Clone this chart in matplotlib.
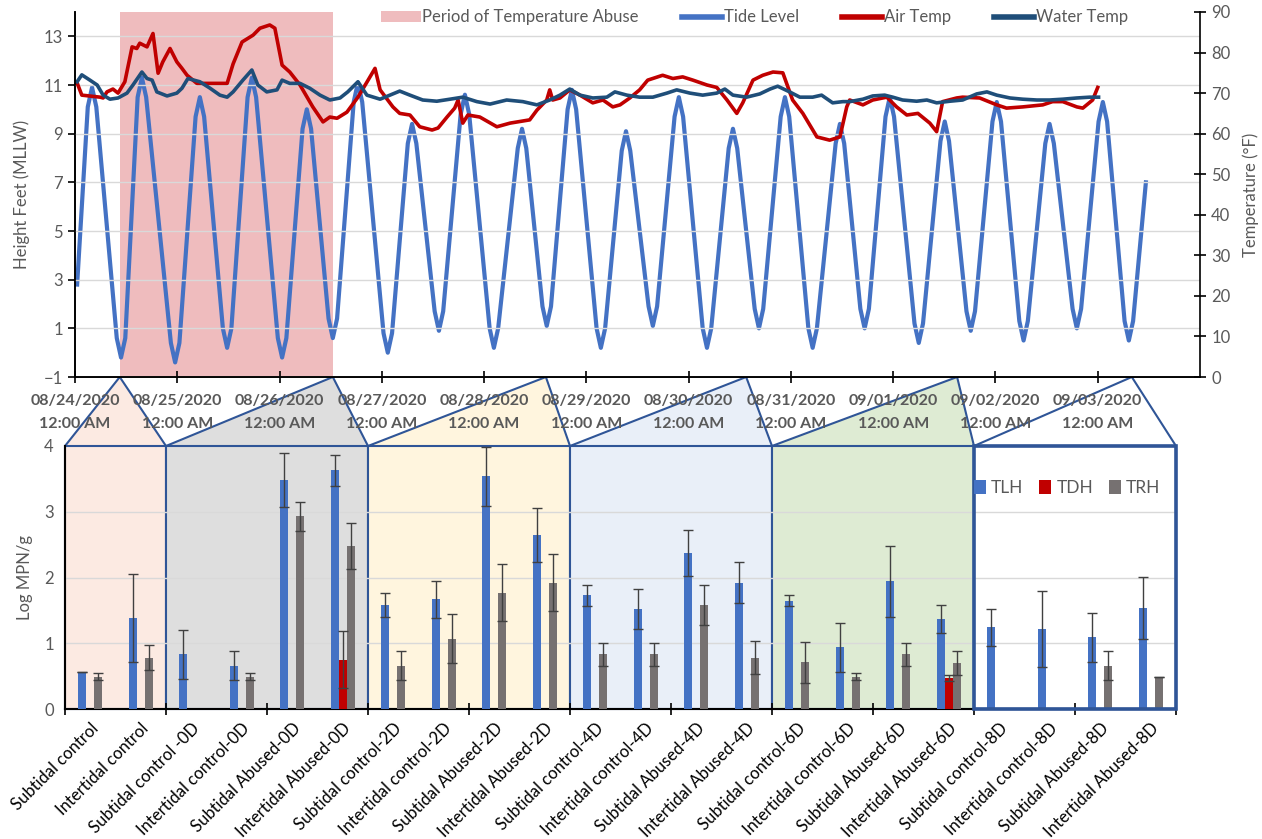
import numpy as np
import pandas as pd
import matplotlib
matplotlib.use("Agg")
import matplotlib.pyplot as plt
import matplotlib.dates as mdates
from matplotlib.patches import Patch, Rectangle, Polygon
from matplotlib.lines import Line2D

plt.rcParams['font.family'] = ['Lato', 'DejaVu Sans']

start = pd.Timestamp("2020-08-24 00:00")

# tide level (ft MLLW), hours after 08/24 00:00
tide_hours = [0.5,
              3.0, 4.0, 5.0, 9.8, 10.8, 11.8, 14.7, 15.7, 16.7, 22.5, 23.5, 24.5,
              28.3, 29.3, 30.3, 34.7, 35.7, 36.7, 40.5, 41.5, 42.5, 47.6, 48.6, 49.6,
              53.4, 54.4, 55.4, 59.5, 60.5, 61.5, 65.4, 66.4, 67.4, 72.4, 73.4, 74.4,
              78.1, 79.1, 80.1, 84.4, 85.4, 86.4, 90.5, 91.5, 92.5, 97.3, 98.3, 99.3,
              103.9, 104.9, 105.9, 109.7, 110.7, 111.7, 115.6, 116.6, 117.6, 122.4, 123.4, 124.4,
              128.3, 129.3, 130.3, 134.6, 135.6, 136.6, 140.7, 141.7, 142.7, 147.3, 148.3, 149.3,
              153.4, 154.4, 155.4, 159.5, 160.5, 161.5, 165.6, 166.6, 167.6, 172.1, 173.1, 174.1,
              178.5, 179.5, 180.5, 184.3, 185.3, 186.3, 190.2, 191.2, 192.2, 197.0, 198.0, 199.0,
              203.1, 204.1, 205.1, 209.2, 210.2, 211.2, 215.3, 216.3, 217.3, 221.6, 222.6, 223.6,
              227.7, 228.7, 229.7, 234.1, 235.1, 236.1, 240.2, 241.2, 242.2, 246.3, 247.3, 248.3,
              251.3]
tide_ft = [2.8,
           10.1, 10.9, 10.1, 0.6, -0.2, 0.6, 10.5, 11.3, 10.5, 0.4, -0.4, 0.4,
           9.7, 10.5, 9.7, 1.0, 0.2, 1.0, 10.5, 11.3, 10.5, 0.6, -0.2, 0.6,
           9.2, 10.0, 9.2, 1.4, 0.6, 1.4, 10.3, 11.1, 10.3, 0.8, 0.0, 0.8,
           8.6, 9.4, 8.6, 1.7, 0.9, 1.7, 9.8, 10.6, 9.8, 1.0, 0.2, 1.0,
           8.4, 9.2, 8.4, 1.9, 1.1, 1.9, 10.0, 10.8, 10.0, 1.0, 0.2, 1.0,
           8.3, 9.1, 8.3, 1.9, 1.1, 1.9, 9.7, 10.5, 9.7, 1.0, 0.2, 1.0,
           8.4, 9.2, 8.4, 1.8, 1.0, 1.8, 9.7, 10.5, 9.7, 1.0, 0.2, 1.0,
           8.6, 9.4, 8.6, 1.8, 1.0, 1.8, 9.7, 10.5, 9.7, 1.2, 0.4, 1.2,
           8.7, 9.5, 8.7, 1.7, 0.9, 1.7, 9.5, 10.3, 9.5, 1.3, 0.5, 1.3,
           8.6, 9.4, 8.6, 1.8, 1.0, 1.8, 9.5, 10.3, 9.5, 1.3, 0.5, 1.3,
           7.0]

# air temperature (F)
air_hours = [0.5, 1.6, 5.9, 6.6, 7.5, 8.9, 10.1, 11.7, 13.4, 14.5,
             15.2, 16.9, 18.3, 19.5, 20.6, 22.3, 23.9, 25.1, 26.3, 28.6,
             35.7, 37.1, 39.2, 41.8, 43.4, 45.7, 46.9, 48.6, 50.4, 52.8,
             55.8, 58.2, 59.8, 61.5, 63.8, 66.4, 68.5, 70.4, 71.6, 74.6,
             76.2, 78.6, 80.9, 83.8, 85.2, 87.3, 89.1, 89.9, 91.0, 92.2,
             95.0, 99.0, 102.1, 106.7, 108.4, 110.7, 111.4, 112.1, 113.8, 116.1,
             118.5, 121.5, 123.9, 126.2, 127.9, 130.2, 132.5, 134.4, 137.9, 140.3,
             142.6, 145.0, 148.3, 150.6, 153.0, 155.3, 156.7, 159.1, 161.4, 163.8,
             166.1, 168.4, 170.8, 174.1, 177.1, 179.5, 181.1, 181.8, 184.9, 187.2,
             190.5, 192.8, 195.2, 197.8, 200.6, 202.2, 203.6, 206.9, 208.3, 212.3,
             216.3, 218.6, 222.4, 227.1, 229.4, 231.8, 235.1, 236.5, 238.8, 240.0]
air_f = [72.5, 69.5, 69.0, 68.8, 70.3, 71.0, 70.0, 72.8, 81.4, 81.0,
         82.3, 81.4, 84.7, 74.9, 77.7, 81.0, 77.7, 76.1, 74.4, 72.4,
         72.4, 77.2, 82.6, 84.3, 86.0, 86.8, 86.0, 76.9, 75.2, 72.0,
         66.6, 62.9, 64.1, 63.8, 65.3, 69.0, 72.7, 76.1, 70.8, 66.6,
         65.0, 64.6, 61.7, 60.9, 61.4, 64.1, 66.3, 68.3, 62.6, 64.6,
         64.1, 61.7, 62.6, 63.4, 65.8, 68.3, 70.8, 68.3, 68.8, 70.8,
         69.5, 67.6, 68.3, 66.6, 67.1, 68.8, 70.8, 73.2, 74.4, 73.6,
         74.0, 73.2, 72.0, 71.4, 68.3, 65.0, 67.6, 73.2, 74.4, 75.2,
         75.0, 68.3, 65.0, 59.2, 58.4, 59.2, 66.6, 68.3, 67.1, 68.3,
         69.0, 66.6, 64.6, 65.0, 62.6, 60.5, 67.9, 68.8, 69.0, 68.8,
         67.1, 66.3, 66.6, 67.1, 67.9, 67.9, 66.6, 66.3, 68.3, 71.4]

# water temperature (F)
water_hours = [0.5, 1.6, 3.5, 5.2, 6.6, 8.2, 10.1, 12.2, 13.6, 15.7,
               16.9, 18.1, 19.2, 21.6, 23.9, 25.1, 26.5, 29.3, 31.7, 34.0,
               35.7, 37.1, 39.4, 41.5, 42.9, 45.0, 47.4, 48.6, 50.4, 52.8,
               55.1, 57.5, 59.8, 62.2, 64.0, 66.4, 68.5, 71.6, 73.9, 76.2,
               78.6, 81.6, 84.9, 88.0, 91.0, 94.3, 97.4, 101.3, 105.1, 108.4,
               111.4, 113.8, 116.1, 118.5, 121.5, 124.8, 126.7, 129.5, 132.5, 135.6,
               138.9, 141.2, 144.3, 147.3, 150.6, 152.5, 154.4, 157.6, 160.7, 163.1,
               164.9, 167.7, 170.1, 173.1, 175.2, 177.8, 180.2, 181.8, 184.9, 187.2,
               190.0, 191.9, 194.2, 197.5, 199.9, 202.2, 205.3, 208.3, 211.6, 214.0,
               216.3, 219.4, 222.4, 225.7, 228.7, 231.8, 235.1, 238.1, 240.2]
water_f = [72.8, 74.5, 73.2, 72.0, 69.5, 68.5, 68.8, 70.0, 72.0, 75.2,
           73.6, 73.2, 70.3, 69.3, 70.0, 71.2, 73.6, 72.8, 71.2, 69.5,
           69.0, 70.3, 73.2, 75.7, 72.0, 70.3, 70.8, 73.2, 72.4, 72.4,
           71.2, 69.5, 68.3, 68.8, 70.3, 72.8, 69.5, 68.5, 69.5, 70.5,
           69.5, 68.3, 68.0, 68.5, 69.0, 67.9, 67.3, 68.3, 67.9, 67.1,
           68.3, 69.5, 71.0, 69.5, 68.8, 69.0, 70.3, 69.5, 69.0, 69.0,
           70.0, 70.8, 70.0, 69.5, 70.0, 71.0, 69.5, 69.0, 69.8, 71.0,
           71.7, 70.3, 69.0, 69.0, 69.5, 67.6, 67.9, 67.9, 68.5, 69.3,
           69.5, 69.0, 68.3, 68.0, 68.3, 67.6, 68.0, 68.3, 69.8, 70.3,
           69.5, 68.8, 68.5, 68.3, 68.3, 68.5, 68.8, 69.0, 69.0]

abuse_hours = [10.5, 60.5]
sample_hours = [10.5, 60.5, 110.5, 157.5, 207.0, 248.0]

categories = ["Subtidal control", "Intertidal control",
              "Subtidal control -0D", "Intertidal control-0D", "Subtidal Abused-0D", "Intertidal Abused-0D",
              "Subtidal control-2D", "Intertidal control-2D", "Subtidal Abused-2D", "Intertidal Abused-2D",
              "Subtidal control-4D", "Intertidal control-4D", "Subtidal Abused-4D", "Intertidal Abused-4D",
              "Subtidal control-6D", "Intertidal control-6D", "Subtidal Abused-6D", "Intertidal Abused-6D",
              "Subtidal control-8D", "Intertidal control-8D", "Subtidal Abused-8D", "Intertidal Abused-8D"]
tlh = [0.56, 1.39, 0.83, 0.66, 3.48, 3.63, 1.58, 1.67, 3.54, 2.65, 1.73,
       1.52, 2.37, 1.92, 1.65, 0.94, 1.94, 1.37, 1.24, 1.22, 1.09, 1.54]
tlh_err = [0.0, 0.67, 0.37, 0.22, 0.41, 0.24, 0.18, 0.28, 0.45, 0.41, 0.16,
           0.31, 0.35, 0.31, 0.08, 0.37, 0.54, 0.21, 0.28, 0.58, 0.37, 0.47]
tdh = [0, 0, 0, 0, 0, 0.75, 0, 0, 0, 0, 0,
       0, 0, 0, 0, 0, 0, 0.47, 0, 0, 0, 0]
tdh_err = [0, 0, 0, 0, 0, 0.43, 0, 0, 0, 0, 0,
           0, 0, 0, 0, 0, 0, 0.05, 0, 0, 0, 0]
trh = [0.49, 0.78, 0, 0.49, 2.93, 2.48, 0.66, 1.07, 1.77, 1.92, 0.83,
       0.83, 1.58, 0.78, 0.71, 0.49, 0.83, 0.70, 0, 0, 0.66, 0.48]
trh_err = [0.05, 0.19, 0, 0.05, 0.22, 0.35, 0.22, 0.37, 0.43, 0.43, 0.18,
           0.18, 0.31, 0.25, 0.31, 0.05, 0.18, 0.18, 0, 0, 0.22, 0.0]

group_sizes = [2, 4, 4, 4, 4, 4]
group_colors = ["#FCEAE2", "#DEDEDE", "#FFF5DE", "#E9EFF8", "#DEEBD3", "#FFFFFF"]

gray = "#595959"
navy = "#2F5597"
W, H = 1262, 839


def to_time(hours):
    return (start + pd.to_timedelta(hours, unit="h")).to_pydatetime()


fig = plt.figure(figsize=(W / 100, H / 100), dpi=100)

# ---- top: tide and temperatures ----
ax = fig.add_axes([75 / W, 1 - 377 / H, 1125 / W, 365 / H])
ax2 = ax.twinx()

ax.axvspan(to_time(abuse_hours[0]), to_time(abuse_hours[1]), color="#EFBCBE", lw=0, zorder=0.3)
ax.plot(to_time(tide_hours), tide_ft, color="#4472C4", lw=3, solid_joinstyle="round", zorder=2)
ax2.plot(to_time(air_hours), air_f, color="#C00000", lw=2.6, solid_joinstyle="round")
ax2.plot(to_time(water_hours), water_f, color="#1F4E79", lw=2.6, solid_joinstyle="round")

ax.set_ylim(-1, 14)
ax.set_yticks(np.arange(-1, 14, 2))
ax2.set_ylim(0, 90)
ax2.set_yticks(np.arange(0, 91, 10))
ax.grid(axis="y", color="#D9D9D9", lw=1)
ax.set_axisbelow(False)
for gl in ax.get_ygridlines():
    gl.set_zorder(0.5)

day_ticks = [start + pd.Timedelta(days=d) for d in range(11)]
ax.set_xlim(to_time(0), to_time(264))
ax.set_xticks([mdates.date2num(t.to_pydatetime()) for t in day_ticks],
              [t.strftime("%m/%d/%Y\n%I:%M %p") for t in day_ticks],
              fontweight="bold", fontsize=11.5, color=gray, linespacing=1.75)
ax.tick_params(axis="x", direction="inout", length=9, pad=8, width=1.2)
ax.tick_params(axis="y", direction="out", length=5, labelsize=12, labelcolor=gray, width=1.2)
ax2.tick_params(axis="y", direction="inout", length=9, labelsize=12, labelcolor=gray, width=1.2)
for a in (ax, ax2):
    a.spines["top"].set_visible(False)
    for s in a.spines.values():
        s.set_linewidth(1.2)
ax.spines["right"].set_visible(False)
ax.set_ylabel("Height Feet (MLLW)", color=gray, fontsize=12, labelpad=10)
ax2.set_ylabel("Temperature (°F)", color=gray, fontsize=12, labelpad=9)

handles = [Patch(facecolor="#EFBCBE", edgecolor="none"),
           Line2D([], [], color="#4472C4", lw=4),
           Line2D([], [], color="#C00000", lw=4),
           Line2D([], [], color="#1F4E79", lw=4)]
leg = ax2.legend(handles, ["Period of Temperature Abuse", "Tide Level", "Air Temp", "Water Temp"],
                 loc="center", bbox_to_anchor=(0.604, 0.985), ncol=4, frameon=False,
                 fontsize=12, handlelength=2.4, handletextpad=0.1, columnspacing=2.6)
for t in leg.get_texts():
    t.set_color(gray)

# ---- bottom: Vibrio counts ----
axb = fig.add_axes([65 / W, 1 - 709 / H, 1111 / W, 263 / H])
n = len(categories)
x = np.arange(n)
bw = 0.158
bounds = np.concatenate([[0], np.cumsum(group_sizes)]) - 0.5

for i, c in enumerate(group_colors):
    axb.add_patch(Rectangle((bounds[i], 0), bounds[i + 1] - bounds[i], 4, facecolor=c,
                            edgecolor=navy, lw=1.5, zorder=0.5, clip_on=False))
axb.add_patch(Rectangle((bounds[-2], 0), bounds[-1] - bounds[-2], 4, facecolor="none",
                        edgecolor=navy, lw=2.6, zorder=3.5, clip_on=False))
for yv in (1, 2, 3):
    axb.axhline(yv, color="#D9D9D9", lw=1, zorder=1)

series = [("TLH", tlh, tlh_err, "#4472C4", -bw),
          ("TDH", tdh, tdh_err, "#C00000", 0.0),
          ("TRH", trh, trh_err, "#767171", bw)]
for name, vals, errs, col, off in series:
    vals = np.array(vals, dtype=float)
    errs = np.array(errs, dtype=float)
    m = vals > 0
    axb.bar(x[m] + off, vals[m], bw, yerr=errs[m], color=col, label=name, zorder=3,
            error_kw=dict(ecolor="#404040", elinewidth=1, capsize=3.5, capthick=1, zorder=4))

axb.set_xlim(-0.5, n - 0.5)
axb.set_ylim(0, 4)
axb.set_yticks([0, 1, 2, 3, 4])
axb.set_xticks(x, categories, rotation=45, ha="right", rotation_mode="anchor", fontsize=12)
axb.set_xticks(np.arange(-0.5, n, 2), minor=True)
axb.tick_params(axis="x", which="major", length=0, pad=8)
axb.tick_params(axis="x", which="minor", direction="inout", length=9, width=1.2)
axb.tick_params(axis="y", length=0, labelsize=12, labelcolor=gray, pad=8)
axb.spines["top"].set_visible(False)
axb.spines["right"].set_visible(False)
axb.spines["left"].set_linewidth(1.5)
axb.spines["bottom"].set_linewidth(1.5)
axb.set_ylabel("Log MPN/g", color=gray, fontsize=12, labelpad=8)
legb = axb.legend(loc="center right", bbox_to_anchor=(1.0, 0.84), ncol=3, frameon=False,
                  fontsize=12.5, handlelength=0.7, handleheight=0.8, handletextpad=0.3,
                  columnspacing=0.9)
for t in legb.get_texts():
    t.set_color(gray)

# ---- connectors from sampling times to bar groups ----
to_fig = fig.transFigure.inverted()
for i, h in enumerate(sample_hours):
    apex = ax.transData.transform((mdates.date2num(to_time(h)), -1))
    left = axb.transData.transform((bounds[i], 4))
    right = axb.transData.transform((bounds[i + 1], 4))
    pts = to_fig.transform([left, apex, right])
    fig.add_artist(Polygon(pts, closed=False, transform=fig.transFigure, facecolor=group_colors[i],
                           edgecolor=navy, lw=1.5, zorder=-1))

fig.savefig("out.png", dpi=100)
